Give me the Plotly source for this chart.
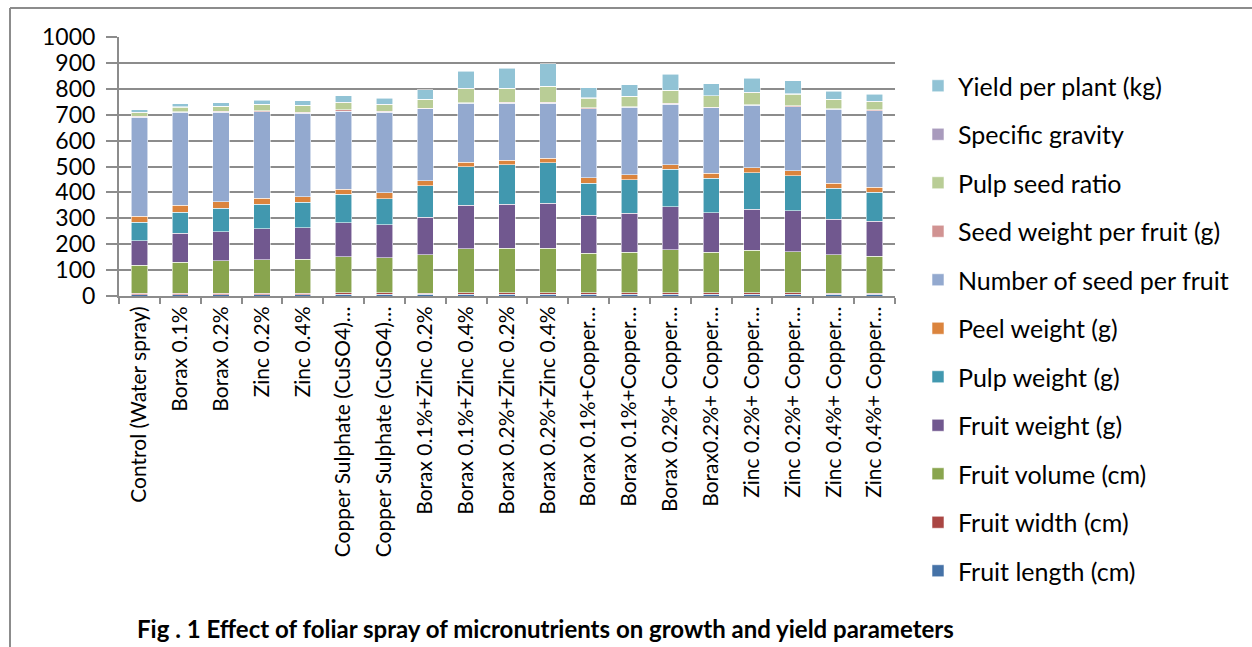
import plotly.graph_objects as go

categories = [
    "Control (Water spray)", "Borax 0.1%", "Borax 0.2%", "Zinc 0.2%", "Zinc 0.4%",
    "Copper Sulphate (CuSO4)…", "Copper Sulphate (CuSO4)…",
    "Borax 0.1%+Zinc 0.2%", "Borax 0.1%+Zinc 0.4%", "Borax 0.2%+Zinc 0.2%", "Borax 0.2%+Zinc 0.4%",
    "Borax 0.1%+Copper…", "Borax 0.1%+Copper…", "Borax 0.2%+ Copper…", "Borax0.2%+ Copper…",
    "Zinc 0.2%+ Copper…", "Zinc 0.2%+ Copper…", "Zinc 0.4%+ Copper…", "Zinc 0.4%+ Copper…",
]

fruit_length = [5.2, 5.4, 5.5, 5.6, 5.6, 6.4, 6.3, 6.0, 6.8, 6.9, 6.9, 6.1, 6.2, 6.6, 6.2, 6.6, 6.3, 6.0, 5.9]
fruit_width = [4.6, 4.8, 4.9, 5.0, 5.0, 5.9, 5.8, 5.6, 6.4, 6.5, 6.4, 5.7, 5.8, 6.2, 5.8, 6.1, 5.9, 5.6, 5.5]
fruit_volume = [109, 121, 126, 130, 132, 139, 135, 148, 169, 171, 171, 153, 157, 166, 157, 164, 159, 147, 143]
fruit_weight = [95, 111, 112, 120, 121, 131, 128, 144, 169, 170, 174, 147, 151, 165, 153, 159, 158, 138, 135]
pulp_weight = [71, 81, 90, 94, 98, 110, 100, 123, 148, 152, 156, 124, 129, 145, 132, 141, 136, 119, 112]
peel_weight = [24, 27, 26, 22, 21, 19, 23, 19, 18, 18, 18, 20, 19, 18, 19, 18, 18, 19, 18]
seeds_per_fruit = [381, 359, 345, 334, 323, 303, 312, 277, 227, 220, 212, 268, 260, 234, 253, 241, 248, 286, 295]
seed_weight = [5, 3, 3, 5, 3, 5, 3, 3, 2, 4, 4, 3, 3, 3, 2, 3, 3, 3, 5]
pulp_seed_ratio = [13, 17, 20, 24, 27, 27, 26, 34, 54, 53, 61, 37, 40, 50, 45, 47, 45, 36, 31]
specific_gravity = [1.0] * 19
yield_per_plant = [10, 12, 13, 15, 17, 26, 23, 36, 66, 77, 87, 39, 43, 62, 46, 55, 51, 30, 28]

series = [
    ("Fruit length (cm)", fruit_length, "#4572A7"),
    ("Fruit width (cm)", fruit_width, "#AA4643"),
    ("Fruit volume (cm)", fruit_volume, "#89A54E"),
    ("Fruit weight (g)", fruit_weight, "#71588F"),
    ("Pulp weight (g)", pulp_weight, "#4198AF"),
    ("Peel weight (g)", peel_weight, "#DB843D"),
    ("Number of seed per fruit", seeds_per_fruit, "#93A9CF"),
    ("Seed weight per fruit (g)", seed_weight, "#D19392"),
    ("Pulp seed ratio", pulp_seed_ratio, "#B9CD96"),
    ("Specific gravity", specific_gravity, "#A99BBD"),
    ("Yield per plant (kg)", yield_per_plant, "#91C3D5"),
]

x = list(range(len(categories)))

fig = go.Figure()
for i, (name, vals, color) in enumerate(series):
    fig.add_trace(go.Bar(
        x=x, y=vals, name=name, legendgroup=name, legendrank=1000 - 10 * i,
        marker=dict(color=color, line=dict(color="rgba(255,255,255,0.7)", width=0.8)),
    ))

W, H = 1252, 647
L, R, T, B = 119, 895, 37, 296
pw, ph = R - L, B - T

def px_x(v):
    return (v - L) / pw

def px_y(v):
    return (B - v) / ph

grid = "#8c8c8c"
fig.update_layout(
    width=W, height=H,
    margin=dict(l=L, r=W - R, t=T, b=H - B, pad=0),
    barmode="stack", bargap=0.6,
    plot_bgcolor="white", paper_bgcolor="white",
    font=dict(family="Lato", size=22, color="#000000"),
    showlegend=True,
    legend=dict(
        x=px_x(918), y=px_y(63), xanchor="left", yanchor="top",
        traceorder="grouped", tracegroupgap=13, maxheight=620,
        font=dict(family="Lato", size=25, color="#000000"),
        bgcolor="rgba(0,0,0,0)",
    ),
    xaxis=dict(
        range=[-0.5, len(categories) - 0.5],
        tickmode="array", tickvals=x, ticktext=categories,
        tickangle=-90, ticks="", showgrid=False,
        showline=True, linecolor=grid, linewidth=2,
        tickfont=dict(family="Lato", size=21),
        minor=dict(tickmode="array", tickvals=[i - 0.5 for i in range(len(categories) + 1)],
                   ticks="outside", ticklen=6, tickcolor=grid, tickwidth=2, showgrid=False),
        zeroline=False, fixedrange=True,
    ),
    yaxis=dict(
        range=[0, 1000], tickmode="linear", tick0=0, dtick=100,
        showgrid=True, gridcolor=grid, gridwidth=2,
        showline=True, linecolor=grid, linewidth=2,
        ticks="outside", ticklen=11, tickcolor=grid, tickwidth=2,
        tickfont=dict(family="Lato", size=23), ticklabelstandoff=6,
        zeroline=False, fixedrange=True,
    ),
)

# outer chart frame (left and top edges visible)
fig.add_shape(type="line", xref="paper", yref="paper",
              x0=px_x(10), x1=px_x(10), y0=px_y(8), y1=px_y(H + 10),
              line=dict(color="#8c8c8c", width=2))
fig.add_shape(type="line", xref="paper", yref="paper",
              x0=px_x(10), x1=px_x(W + 10), y0=px_y(8), y1=px_y(8),
              line=dict(color="#8c8c8c", width=2))

fig.add_annotation(
    text="<b>Fig . 1 Effect of foliar spray of micronutrients on growth and yield parameters</b>",
    xref="paper", yref="paper", x=px_x(135), y=px_y(628),
    xanchor="left", yanchor="middle", showarrow=False,
    font=dict(family="Lato", size=24, color="#000000"),
)

fig.write_html("out.html", config={"displayModeBar": False},
               post_script="document.body.style.margin='0';")
